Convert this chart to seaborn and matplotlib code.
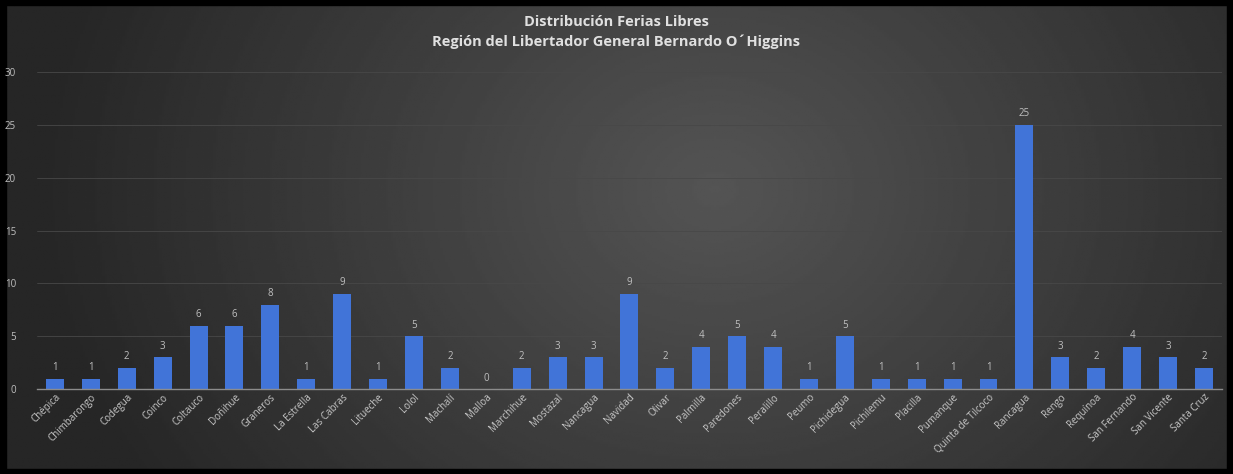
import numpy as np
import pandas as pd
import matplotlib
matplotlib.use("Agg")
import matplotlib.pyplot as plt
import seaborn as sns

# Datos: ferias libres por comuna
comunas = ["Chépica", "Chimbarongo", "Codegua", "Coinco", "Coltauco", "Doñihue",
           "Graneros", "La Estrella", "Las Cabras", "Litueche", "Lolol", "Machalí",
           "Malloa", "Marchihue", "Mostazal", "Nancagua", "Navidad", "Olivar",
           "Palmilla", "Paredones", "Peralillo", "Peumo", "Pichidegua", "Pichilemu",
           "Placilla", "Pumanque", "Quinta de Tilcoco", "Rancagua", "Rengo",
           "Requínoa", "San Fernando", "San Vicente", "Santa Cruz"]
ferias = [1, 1, 2, 3, 6, 6, 8, 1, 9, 1, 5, 2, 0, 2, 3, 3, 9, 2, 4, 5, 4, 1, 5, 1,
          1, 1, 1, 25, 3, 2, 4, 3, 2]
y_ticks = [0, 5, 10, 15, 20, 25, 30]

df = pd.DataFrame({"comuna": comunas, "ferias": ferias})

sns.set_theme(style="dark")
plt.rcParams['font.family'] = ['Open Sans', 'DejaVu Sans']

fig = plt.figure(figsize=(12.33, 4.74), dpi=100)

# fondo con degradado radial
bg = fig.add_axes([0, 0, 1, 1], zorder=0)
yy, xx = np.mgrid[0:1:200j, 0:1:500j]
dist = np.sqrt(((xx - 0.58) * 1.5) ** 2 + ((yy - 0.6) * 0.7) ** 2)
shade = np.clip(0.33 - 0.22 * dist, 0.15, 0.33)
bg.imshow(shade, cmap="gray", vmin=0, vmax=1, aspect="auto",
          extent=[0, 1, 0, 1], origin="lower")
bg.set_xlim(0, 1)
bg.set_ylim(0, 1)
bg.axis("off")
# borde negro
for s in [(0, 0, 1, 0.011), (0, 0.989, 1, 0.011), (0, 0, 0.005, 1), (0.995, 0, 0.005, 1)]:
    bg.add_patch(plt.Rectangle((s[0], s[1]), s[2], s[3], color="black",
                               transform=bg.transAxes))

ax = fig.add_axes([0.030, 0.179, 0.961, 0.669], zorder=1)
ax.patch.set_alpha(0)
sns.barplot(data=df, x="comuna", y="ferias", color="#4174d8", width=0.5,
            saturation=1, edgecolor="none", linewidth=0, ax=ax)

ax.set_ylim(0, 30)
ax.set_xlim(-0.5, len(comunas) - 0.5)
ax.set_yticks(y_ticks)
ax.yaxis.grid(True, color="#484848", linewidth=0.6)
ax.set_axisbelow(True)
for side in ["top", "right", "left"]:
    ax.spines[side].set_visible(False)
ax.spines["bottom"].set_color("#8c8c8c")
ax.spines["bottom"].set_linewidth(1)

ax.tick_params(axis="y", colors="#bfbfbf", labelsize=7, length=0, pad=15)
ax.tick_params(axis="x", colors="#c8c8c8", labelsize=7, length=0, pad=2)
ax.set_xticks(range(len(comunas)))
ax.set_xticklabels(comunas, rotation=45, ha="right", rotation_mode="anchor")
ax.set_xlabel("")
ax.set_ylabel("")

for i, v in enumerate(ferias):
    ax.annotate(str(v), (i, v), xytext=(0, 4), textcoords="offset points",
                ha="center", va="bottom", fontsize=7, color="#bfbfbf")

fig.text(0.5, 0.968, "Distribución Ferias Libres\nRegión del Libertador General Bernardo O´Higgins",
         ha="center", va="top", fontsize=10.5, fontweight="bold", color="#e0e0e0",
         linespacing=1.45)

fig.savefig("out.png", dpi=100)
